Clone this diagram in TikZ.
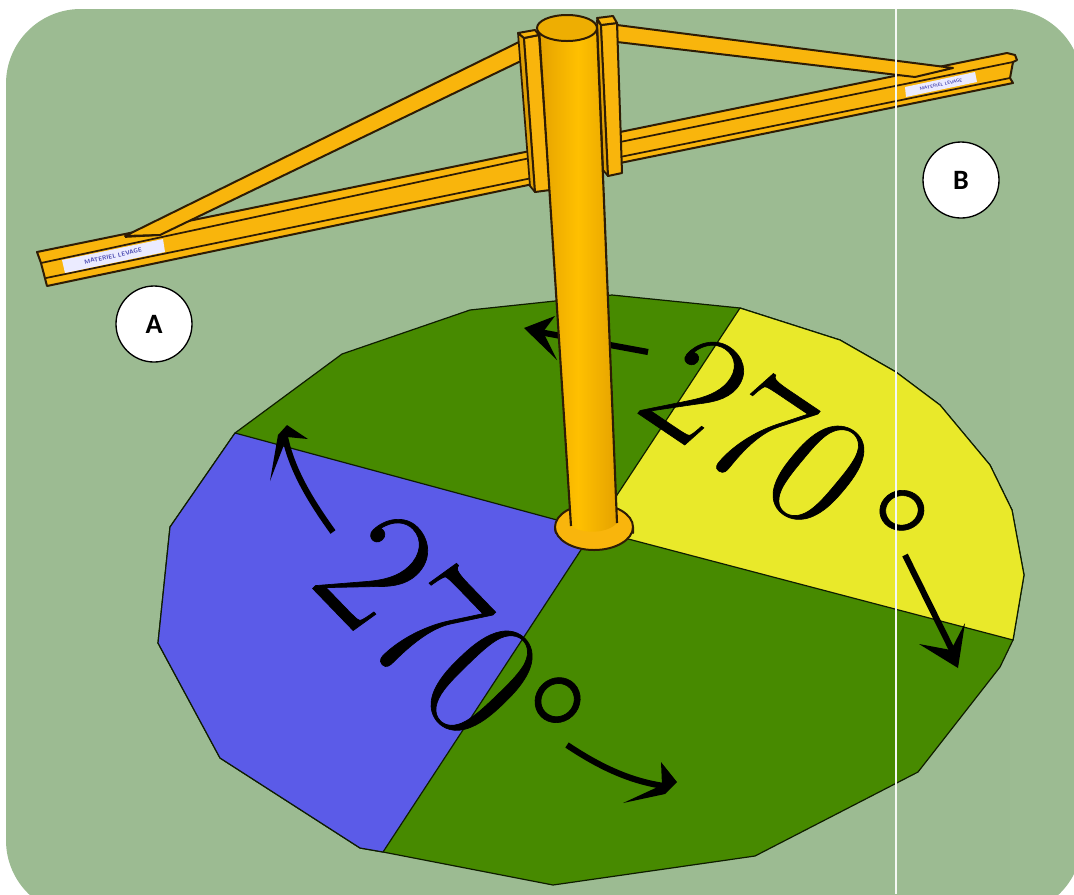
\documentclass[tikz,border=0pt]{standalone}
\usepackage{fontspec}
\newfontfamily\labelfont{Carlito}
\newfontfamily\bigfont[FakeBold=0.4]{Latin Modern Roman}
\definecolor{bggreen}{HTML}{9CBB92}
\definecolor{dkgreen}{HTML}{478A00}
\definecolor{sblue}{HTML}{5B5BE8}
\definecolor{syellow}{HTML}{E9E92A}
\definecolor{steel}{HTML}{F9B50C}
\definecolor{steeldk}{HTML}{DFA005}
\definecolor{polemid}{HTML}{FFC000}
\definecolor{poleedge}{HTML}{E5A200}
\definecolor{poletop}{HTML}{EEAE02}
\definecolor{edgec}{HTML}{2E1C05}
\tikzset{
  part/.style={fill=steel,draw=edgec,line width=1.5pt,line join=round},
  partdk/.style={fill=steeldk,draw=edgec,line width=1.3pt,line join=round},
  seam/.style={draw=edgec,line width=1.3pt},
  sector/.style={draw=black!80!dkgreen,line width=0.9pt,line join=round},
  tag/.style={circle,draw=black,line width=1pt,fill=white,minimum size=57pt,inner sep=0pt,font=\labelfont\bfseries\fontsize{21}{24}\selectfont},
  shaft/.style={line width=4.6pt,black},
  bigtext/.style={font=\bigfont\fontsize{134}{140}\selectfont,inner sep=0pt,text=black},
  plate/.style={fill=white!92!blue,draw=none},
  platetext/.style={font=\sffamily\bfseries\fontsize{4.6}{5}\selectfont,text=blue!40!gray,inner sep=0pt,rotate=12}
}
\begin{document}
\begin{tikzpicture}[x=0.75pt,y=-0.75pt]
\useasboundingbox (0,0) rectangle (1074,894);
\begin{scope}
\clip (0,0) rectangle (1074,894);
\fill[white] (0,0) rectangle (1074,894);
\fill[bggreen,rounded corners=56pt] (6,9) rectangle (1082,915);

% turning area on the floor
\coordinate (C) at (594,530);
\path[sector,fill=dkgreen] (235,433) -- (342,354) -- (470,310) -- (612,295) -- (740,308) -- (840,340) -- (896,372) -- (940,405) -- (990,465) -- (1012,510) -- (1024,575) -- (1013,640) -- (1000,667) -- (918,772) -- (755,856) -- (553,885) -- (383,852) -- (360,848) -- (220,758) -- (158,643) -- (170,527) -- cycle;
\path[sector,fill=syellow] (C) -- (740,308) -- (840,340) -- (896,372) -- (940,405) -- (990,465) -- (1012,510) -- (1024,575) -- (1013,640) -- cycle;
\path[sector,fill=sblue] (C) -- (383,852) -- (360,848) -- (220,758) -- (158,643) -- (170,527) -- (235,433) -- cycle;

% arrow behind the column
\coordinate (a1s) at (648,352);
\coordinate (a1e) at (534,331);
\draw[shaft] (a1s) -- (a1e);
\fill (524,328) -- (555,316) -- (543,332) -- (557,360) -- cycle;

% left beam
\path[part] (37,252) -- (530,151) -- (533,184) -- (47,286) -- (41,263) -- cycle;
\draw[seam] (41,263) -- (530,158);
\draw[seam] (46,278) -- (532,178);
\path[part] (125,236) -- (521,41) -- (523,60) -- (160,235) -- cycle;
\draw[seam] (125,237) -- (160,235);
\path[plate] (62,260) -- (163,239) -- (165,252) -- (65,273) -- cycle;
\node[platetext] (labela) at (113,256) {MATERIEL LEVAGE};

% right beam
\path[part] (620,132) -- (1007,53) -- (1015,55) -- (1017,60) -- (1013,62) -- (1010,78) -- (1013,83) -- (620,163) -- cycle;
\draw[seam] (620,142) -- (1013,62);
\draw[seam] (620,157) -- (1010,78);
\path[part] (617,25) -- (953,68) -- (915,77) -- (617,42) -- cycle;
\path[plate] (905,87) -- (975,72) -- (977,82) -- (906,97) -- cycle;
\node[platetext,font=\sffamily\bfseries\fontsize{3.4}{4}\selectfont] (labelb) at (941,84.5) {MATERIEL LEVAGE};

% brackets
\path[partdk] (518,33) -- (524,38) -- (535,192) -- (530,186) -- cycle;
\path[part] (524,38) -- (539,35) -- (550,190) -- (535,192) -- cycle;
\path[part] (518,33) -- (535,30) -- (539,35) -- (524,38) -- cycle;
\path[partdk] (597,20) -- (601,25) -- (608,176) -- (603,170) -- cycle;
\path[part] (601,25) -- (617,23) -- (622,173) -- (608,176) -- cycle;
\path[part] (597,18) -- (613,16) -- (617,23) -- (601,25) -- cycle;

% base plate
\path[part,fill=steeldk] (555,529) -- (556,533) arc[start angle=180,end angle=360,x radius=38.5,y radius=21] -- (633,527) -- cycle;
\path[part] (594,527) ellipse[x radius=39,y radius=23];

% column
\path[left color=poleedge,right color=poleedge,middle color=polemid,draw=none]
  (539,28) -- (597,28) -- (617,523) .. controls (607,534) and (582,534) .. (571,526) -- cycle;
\draw[edgec,line width=1.6pt] (539,28) -- (571,526);
\draw[edgec,line width=1.6pt] (597,28) -- (617,523);
\path[fill=poletop,draw=edgec,line width=1.5pt] (567,28) ellipse[x radius=30,y radius=13];

% large labels
\node[bigtext,rotate=-34,xslant=0.1,scale=.9] (ang1) at (785,460) {270\kern20pt\raisebox{-18pt}{°}};
\node[bigtext,rotate=-46,xscale=.93] (ang2) at (450,645) {270°};

% arrows
\coordinate (a2s) at (333,532);
\coordinate (a2e) at (285,437);
\draw[shaft] (a2s) .. controls (310,500) and (292,470) .. (a2e);
\fill (287,425) -- (308,439) -- (287,437) -- (270,481) -- (278,435) -- cycle;
\coordinate (a3s) at (905,555);
\coordinate (a3e) at (953,652);
\draw[shaft] (a3s) -- (a3e);
\fill (958,668) -- (919,644) -- (951,650) -- (965,623) -- cycle;
\coordinate (a4s) at (567,745);
\coordinate (a4e) at (664,786);
\draw[shaft] (a4s) .. controls (600,767) and (630,781) .. (a4e);
\fill (677,782) -- (661,762) -- (662,785) -- (623,803) -- (665,794) -- cycle;

% letters
\node[tag] (A) at (154,324) {A};
\node[tag] (B) at (961,180) {B};

% thin white line
\coordinate (lt) at (896,9);
\coordinate (lb) at (896,894);
\draw[white!90!bggreen,line width=0.9pt] (lt) -- (lb);
\end{scope}
\end{tikzpicture}
\end{document}
